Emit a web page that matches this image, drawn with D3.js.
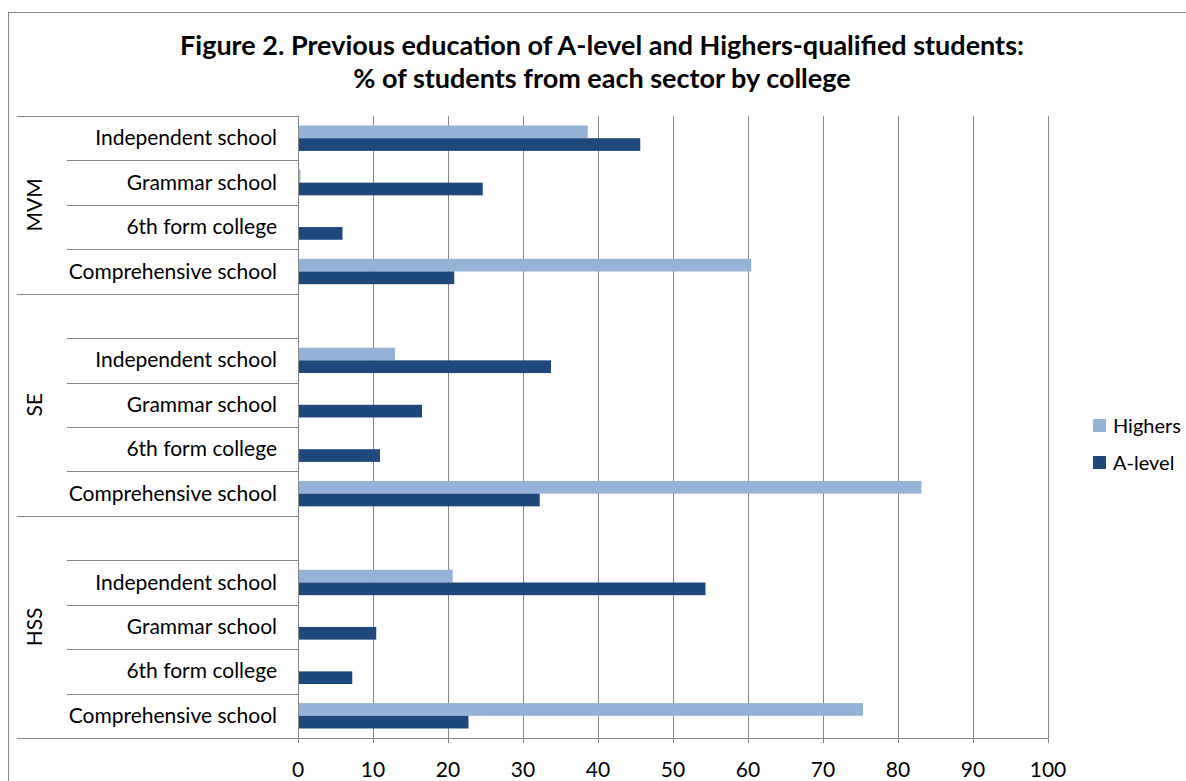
<!DOCTYPE html>
<html>
<head>
<meta charset="utf-8">
<script src="https://cdn.jsdelivr.net/npm/d3@7"></script>
<style>
  body { margin: 0; background: #fff; }
  text { font-family: Lato, "Open Sans", sans-serif; fill: #000; }
</style>
</head>
<body>
<div id="chart"></div>
<script>
// Data (top to bottom as drawn); blank spacer rows sit between colleges
const colleges = ["MVM", "SE", "HSS"];
const sectors = ["Independent school", "Grammar school", "6th form college", "Comprehensive school"];
const highers = {
    MVM: [38.5, 0.2, 0, 60.3],
    SE: [12.8, 0, 0, 83.0],
    HSS: [20.5, 0, 0, 75.2]
};
const alevel = {
    MVM: [45.5, 24.5, 5.8, 20.7],
    SE: [33.6, 16.4, 10.8, 32.1],
    HSS: [54.2, 10.3, 7.1, 22.6]
};
const xTicks = [0, 10, 20, 30, 40, 50, 60, 70, 80, 90, 100];
const seriesNames = ["Highers", "A-level"];
const colors = { "Highers": "#95b3d7", "A-level": "#1f497d" };

const W = 1186, H = 781;
const plot = { left: 298, right: 1048, top: 116, bottom: 738 };

// build row list
const rows = [];
colleges.forEach((c, ci) => {
    if (ci > 0) rows.push({ college: c, sector: "", key: c + "|blank" });
    sectors.forEach((s, si) => {
        rows.push({ college: c, sector: s, key: c + "|" + s, h: highers[c][si], a: alevel[c][si] });
    });
});

const svg = d3.select("#chart").append("svg")
    .attr("width", W)
    .attr("height", H);

// chart border
svg.append("rect")
    .attr("x", 8.5).attr("y", 12.5)
    .attr("width", W + 20).attr("height", H + 20)
    .attr("fill", "#fff")
    .attr("stroke", "#868686");

// title
const title = svg.append("text")
    .attr("text-anchor", "middle")
    .style("font-weight", "bold")
    .style("font-size", "27px");
title.append("tspan").attr("x", 602).attr("y", 55)
    .text("Figure 2. Previous education of A-level and Highers-qualified students:");
title.append("tspan").attr("x", 602).attr("y", 88)
    .text("% of students from each sector by college");

const x = d3.scaleLinear().domain([0, 100]).range([plot.left, plot.right]);
const y = d3.scaleBand()
    .domain(rows.map(r => r.key))
    .range([plot.top, plot.bottom]);

// bars: gap width 150%
const barH = y.bandwidth() / 3.5;
const gapOff = (y.bandwidth() - 2 * barH) / 2;

// vertical gridlines
svg.append("g")
    .selectAll("line")
    .data(xTicks)
    .join("line")
    .attr("x1", d => x(d) + 0.5).attr("x2", d => x(d) + 0.5)
    .attr("y1", plot.top).attr("y2", plot.bottom + 5)
    .attr("stroke", "#868686");

// x axis line + labels
svg.append("line")
    .attr("x1", 17).attr("x2", plot.right)
    .attr("y1", plot.bottom + 0.5).attr("y2", plot.bottom + 0.5)
    .attr("stroke", "#868686");

svg.append("g")
    .selectAll("text")
    .data(xTicks)
    .join("text")
    .attr("x", d => x(d))
    .attr("y", 777)
    .attr("text-anchor", "middle")
    .style("font-size", "21px")
    .text(d => d);

// category separators
svg.append("g")
    .selectAll("line")
    .data(rows)
    .join("line")
    .attr("x1", (r, i) => (i === 0 || r.sector === "") ? 17 : 67)
    .attr("x2", plot.left)
    .attr("y1", r => Math.round(y(r.key)) + 0.5)
    .attr("y2", r => Math.round(y(r.key)) + 0.5)
    .attr("stroke", "#868686");

// sector labels
svg.append("g")
    .selectAll("text")
    .data(rows.filter(r => r.sector !== ""))
    .join("text")
    .attr("x", 277)
    .attr("y", r => y(r.key) + y.bandwidth() / 2 + 7)
    .attr("text-anchor", "end")
    .style("font-size", "21px")
    .text(r => r.sector);

// college labels (rotated)
colleges.forEach(c => {
    const cRows = rows.filter(r => r.college === c);
    const y0 = y(cRows[0].key);
    const y1 = y(cRows[cRows.length - 1].key) + y.bandwidth();
    svg.append("text")
        .attr("transform", `translate(42,${(y0 + y1) / 2}) rotate(-90)`)
        .attr("text-anchor", "middle")
        .style("font-size", "21px")
        .text(c);
});

// bars
const barRows = rows.filter(r => r.sector !== "");
svg.append("g")
    .selectAll("rect")
    .data(barRows.filter(r => r.h > 0))
    .join("rect")
    .attr("x", x(0) + 1)
    .attr("y", r => y(r.key) + gapOff)
    .attr("width", r => Math.max(1, x(r.h) - x(0)))
    .attr("height", barH)
    .attr("fill", colors["Highers"]);

svg.append("g")
    .selectAll("rect")
    .data(barRows.filter(r => r.a > 0))
    .join("rect")
    .attr("x", x(0) + 1)
    .attr("y", r => y(r.key) + gapOff + barH)
    .attr("width", r => x(r.a) - x(0))
    .attr("height", barH)
    .attr("fill", colors["A-level"]);

// value axis line at 0
svg.append("line")
    .attr("x1", plot.left + 0.5).attr("x2", plot.left + 0.5)
    .attr("y1", plot.top).attr("y2", plot.bottom + 5)
    .attr("stroke", "#868686");

// legend
const legend = svg.append("g").attr("transform", "translate(1093,419)");
seriesNames.forEach((s, i) => {
    legend.append("rect")
        .attr("x", 0).attr("y", i * 37)
        .attr("width", 13).attr("height", 13)
        .attr("fill", colors[s]);
    legend.append("text")
        .attr("x", 20).attr("y", i * 37 + 14)
        .style("font-size", "20px")
        .text(s);
});
</script>
</body>
</html>
